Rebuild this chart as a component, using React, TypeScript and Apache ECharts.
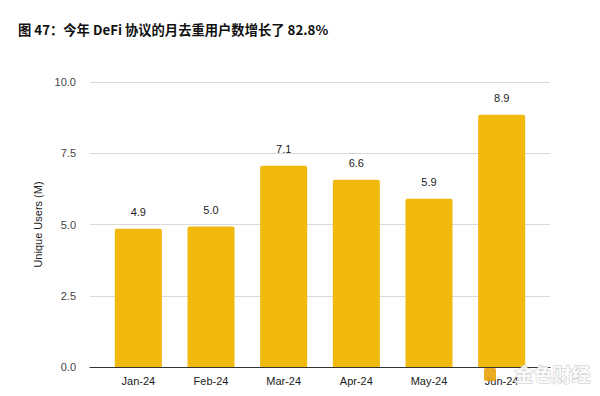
import React, { useEffect, useRef } from "react";
import * as echarts from "echarts";

const categories = ["Jan-24", "Feb-24", "Mar-24", "Apr-24", "May-24", "Jun-24"];
const values = [4.85, 4.93, 7.06, 6.57, 5.9, 8.85];
const valueLabels = ["4.9", "5.0", "7.1", "6.6", "5.9", "8.9"];
const yTicks = [0, 2.5, 5, 7.5, 10];

const title = "图 47：今年 DeFi 协议的月去重用户数增长了 82.8%";
const yName = "Unique Users (M)";

export default function App() {
  const ref = useRef<HTMLDivElement>(null);
  useEffect(() => {
    if (!ref.current) return;
    const chart = echarts.init(ref.current, null, { renderer: "svg" });
    const font = "'Liberation Sans', Arial, sans-serif";
    chart.setOption({
      animation: false,
      backgroundColor: "#ffffff",
      title: {
        text: title,
        left: 13,
        top: 18,
        textStyle: {
          fontFamily: "'Noto Sans CJK SC', sans-serif",
          fontWeight: "bold",
          fontSize: 13.3,
          color: "#111",
        },
      },
      grid: [
        { left: 90, right: 50, top: 82, bottom: 29 },
        { left: 102, right: 62, top: 82, bottom: 29 },
      ],
      xAxis: [
        {
          gridIndex: 0,
          type: "category",
          data: [""],
          axisLine: { show: true, lineStyle: { color: "#333", width: 1 } },
          axisTick: { show: false },
          axisLabel: { show: false },
        },
        {
          gridIndex: 1,
          type: "category",
          data: categories,
          axisLine: { show: false },
          axisTick: { show: false },
          axisLabel: { color: "#222", fontSize: 11, fontFamily: font, margin: 8 },
        },
      ],
      yAxis: [
        {
          gridIndex: 0,
          type: "value",
          min: 0,
          max: 10,
          interval: 2.5,
          name: yName,
          nameLocation: "middle",
          nameGap: 45,
          nameTextStyle: { color: "#222", fontSize: 11, fontFamily: font },
          axisLine: { show: false },
          axisTick: { show: false },
          axisLabel: {
            color: "#444",
            fontSize: 11,
            fontFamily: font,
            margin: 14,
            formatter: (v: number) => (yTicks.includes(v) ? v.toFixed(1) : ""),
          },
          splitLine: { show: true, lineStyle: { color: "#d9d9d9", width: 1 } },
        },
        {
          gridIndex: 1,
          type: "value",
          min: 0,
          max: 10,
          show: false,
          splitLine: { show: false },
        },
      ],
      series: [
        {
          type: "bar",
          xAxisIndex: 1,
          yAxisIndex: 1,
          data: values,
          barWidth: 47,
          itemStyle: { color: "#F0B90B", borderRadius: [2, 2, 0, 0] },
          label: {
            show: true,
            position: "top",
            distance: 11,
            color: "#222",
            fontSize: 11,
            fontFamily: font,
            formatter: (p: any) => valueLabels[p.dataIndex],
          },
          z: 3,
        },
      ],
      graphic: [
        {
          type: "rect",
          left: 484,
          top: 368,
          shape: { width: 12, height: 13, r: 2 },
          style: { fill: "#E9A20A", opacity: 0.9 },
          z: 10,
        },
        {
          type: "text",
          left: 514,
          top: 363,
          style: {
            text: "金色财经",
            fill: "rgba(255,255,255,0.85)",
            stroke: "#c8c8c8",
            lineWidth: 1,
            font: "bold 19px 'Noto Sans CJK SC', sans-serif",
          },
          z: 10,
        },
      ],
    });
    return () => chart.dispose();
  }, []);
  return <div ref={ref} style={{ width: 600, height: 396, margin: -8 }} />;
}
